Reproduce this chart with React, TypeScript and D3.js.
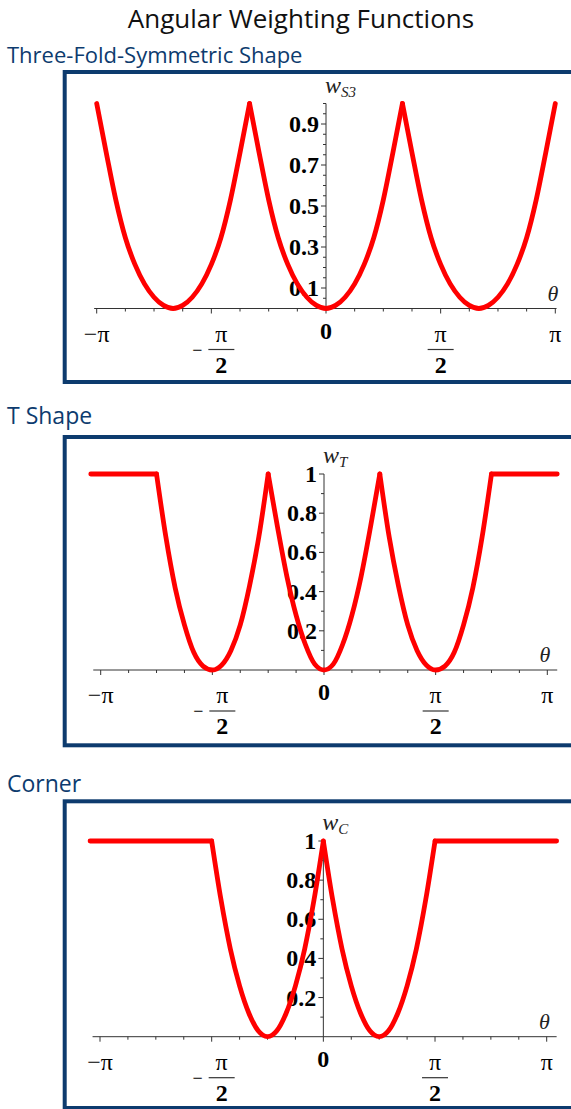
import React from 'react';
import * as d3 from 'd3';

const W = 571;
const H = 1109;

// Sample angles in degrees, every 7.5° (π/24) from −π to π.
const ANGLES_DEG: number[] = d3.range(-180, 180.1, 7.5);

// Three-fold-symmetric weighting w_S3(θ)
const S3_VALUES = [
  1, 0.76, 0.53, 0.345, 0.215, 0.12, 0.055, 0.015,
  0, 0.015, 0.055, 0.12, 0.215, 0.345, 0.53, 0.76,
  1, 0.76, 0.53, 0.345, 0.215, 0.12, 0.055, 0.015,
  0, 0.015, 0.055, 0.12, 0.215, 0.345, 0.53, 0.76,
  1, 0.76, 0.53, 0.345, 0.215, 0.12, 0.055, 0.015,
  0, 0.015, 0.055, 0.12, 0.215, 0.345, 0.53, 0.76,
  1,
];
// cusps / ends (degrees) where the curve is not smooth
const S3_BREAKS = [-180, -60, 60, 180];

// T-shape weighting w_T(θ)
const T_VALUES = [
  1, 1, 1, 1, 1, 1, 1,
  0.68, 0.42, 0.23, 0.09, 0.02, 0,
  0.025, 0.1, 0.23, 0.43, 0.68, 1,
  0.73, 0.48, 0.28, 0.13, 0.03, 0,
  0.03, 0.13, 0.28, 0.48, 0.73, 1,
  0.68, 0.43, 0.23, 0.1, 0.025, 0,
  0.02, 0.09, 0.23, 0.42, 0.68, 1,
  1, 1, 1, 1, 1, 1,
];
const T_BREAKS = [-135, -45, 45, 135];

// Corner weighting w_C(θ)
const C_VALUES = [
  1, 1, 1, 1, 1, 1, 1, 1, 1, 1, 1, 1, 1,
  0.7, 0.45, 0.26, 0.12, 0.03, 0,
  0.03, 0.12, 0.26, 0.45, 0.7, 1,
  0.7, 0.45, 0.26, 0.12, 0.03, 0,
  0.03, 0.12, 0.26, 0.45, 0.7, 1,
  1, 1, 1, 1, 1, 1, 1, 1, 1, 1, 1, 1,
];
const C_BREAKS = [-90, 0, 90];

// Flat plateaus continue slightly past ±π
const FLAT_OVERHANG_DEG = 188;

// Axis tick values
const X_MINOR_STEP_DEG = 22.5;
const X_LABEL_DEG = [-180, -90, 0, 90, 180];
const S3_Y_LABELS = [0.1, 0.3, 0.5, 0.7, 0.9];
const S3_Y_MINOR_STEP = 0.05;
const TC_Y_LABELS = [0.2, 0.4, 0.6, 0.8, 1];
const TC_Y_MINOR_STEP = 0.1;

const NAVY = '#0d3b6e';
const AXIS = '#333';
const RED = '#ff0000';
const SERIF = '"Liberation Serif", "Times New Roman", serif';
const SANS = '"Open Sans", "Noto Sans", sans-serif';
const TICK_FS = 24;

type Pt = { t: number; v: number };

interface PanelSpec {
  subtitle: string;
  subtitleY: number;
  subtitleSize: number;
  frameTop: number;
  frameBottom: number;
  xRange: [number, number];
  yRange: [number, number];
  axisExtent: [number, number];
  points: Pt[];
  breaks: number[];
  yLabels: number[];
  yMinorStep: number;
  yLabelFmt: (v: number) => string;
  wSub: string;
}

const zip = (ts: number[], vs: number[]): Pt[] => ts.map((t, i) => ({ t, v: vs[i] }));
const withOverhang = (pts: Pt[]): Pt[] => [
  { t: -FLAT_OVERHANG_DEG, v: pts[0].v },
  ...pts,
  { t: FLAT_OVERHANG_DEG, v: pts[pts.length - 1].v },
];

const PANELS: PanelSpec[] = [
  {
    subtitle: 'Three-Fold-Symmetric Shape',
    subtitleY: 62.7,
    subtitleSize: 22,
    frameTop: 72,
    frameBottom: 382,
    xRange: [96.7, 555.3],
    yRange: [308.5, 103.5],
    axisExtent: [-182, 181],
    points: zip(ANGLES_DEG, S3_VALUES),
    breaks: S3_BREAKS,
    yLabels: S3_Y_LABELS,
    yMinorStep: S3_Y_MINOR_STEP,
    yLabelFmt: (v) => d3.format('.1f')(v),
    wSub: 'S3',
  },
  {
    subtitle: 'T Shape',
    subtitleY: 424,
    subtitleSize: 23,
    frameTop: 437,
    frameBottom: 745.3,
    xRange: [100.7, 547.3],
    yRange: [670, 474],
    axisExtent: [-186, 188],
    points: withOverhang(zip(ANGLES_DEG, T_VALUES)),
    breaks: T_BREAKS,
    yLabels: TC_Y_LABELS,
    yMinorStep: TC_Y_MINOR_STEP,
    yLabelFmt: (v) => (v === 1 ? '1' : d3.format('.1f')(v)),
    wSub: 'T',
  },
  {
    subtitle: 'Corner',
    subtitleY: 791.7,
    subtitleSize: 23,
    frameTop: 801.3,
    frameBottom: 1108,
    xRange: [100, 546.7],
    yRange: [1036.7, 841],
    axisExtent: [-186, 188],
    points: withOverhang(zip(ANGLES_DEG, C_VALUES)),
    breaks: C_BREAKS,
    yLabels: TC_Y_LABELS,
    yMinorStep: TC_Y_MINOR_STEP,
    yLabelFmt: (v) => (v === 1 ? '1' : d3.format('.1f')(v)),
    wSub: 'C',
  },
];

// Split the sampled curve at cusps so each smooth piece is interpolated on its own.
function splitAtBreaks(pts: Pt[], breaks: number[]): Pt[][] {
  const segs: Pt[][] = [];
  let cur: Pt[] = [pts[0]];
  for (let i = 1; i < pts.length; i++) {
    cur.push(pts[i]);
    if (breaks.includes(pts[i].t) && i < pts.length - 1) {
      segs.push(cur);
      cur = [pts[i]];
    }
  }
  segs.push(cur);
  return segs;
}

function XLabel({ deg, x, y0 }: { deg: number; x: number; y0: number }) {
  const fs = TICK_FS;
  if (deg === 0) {
    return (
      <text x={x} y={y0 + 30} textAnchor="middle" fontFamily={SERIF} fontWeight="bold" fontSize={fs}>
        0
      </text>
    );
  }
  if (Math.abs(deg) === 180) {
    return (
      <text x={x} y={y0 + 33} textAnchor="middle" fontFamily={SERIF} fontSize={fs}>
        {deg < 0 ? '\u2212\u03c0' : '\u03c0'}
      </text>
    );
  }
  // ±π/2 as a stacked fraction
  const neg = deg < 0;
  const cx = neg ? x + 10 : x;
  return (
    <g>
      {neg && (
        <text x={x - 14} y={y0 + 47} textAnchor="middle" fontFamily={SERIF} fontSize={18}>
          {'\u2212'}
        </text>
      )}
      <text x={cx} y={y0 + 33} textAnchor="middle" fontFamily={SERIF} fontSize={fs}>
        {'\u03c0'}
      </text>
      <line x1={cx - 13} x2={cx + 13} y1={y0 + 41} y2={y0 + 41} stroke={AXIS} strokeWidth={1.2} />
      <text x={cx} y={y0 + 64} textAnchor="middle" fontFamily={SERIF} fontWeight="bold" fontSize={fs}>
        2
      </text>
    </g>
  );
}

function Panel({ p }: { p: PanelSpec }) {
  const x = d3.scaleLinear().domain([-180, 180]).range(p.xRange);
  const y = d3.scaleLinear().domain([0, 1]).range(p.yRange);
  const x0 = x(0);
  const y0 = y(0);
  const y1 = y(1);

  const line = d3
    .line<Pt>()
    .x((d) => x(d.t))
    .y((d) => y(d.v))
    .curve(d3.curveMonotoneX);
  const segs = splitAtBreaks(p.points, p.breaks);

  const xMinor = d3.range(-180, 180.1, X_MINOR_STEP_DEG);
  const nMinorY = Math.round(1 / p.yMinorStep);
  const yMinor = d3.range(1, nMinorY + 1).map((i) => i * p.yMinorStep);

  return (
    <g>
      <text x={7} y={p.subtitleY} fontFamily={SANS} fontSize={p.subtitleSize} fill={NAVY}>
        {p.subtitle}
      </text>
      <rect
        x={64.7}
        y={p.frameTop}
        width={620}
        height={p.frameBottom - p.frameTop}
        fill="#fff"
        stroke={NAVY}
        strokeWidth={4}
      />

      {/* x axis */}
      <line x1={x(p.axisExtent[0])} x2={x(p.axisExtent[1])} y1={y0} y2={y0} stroke={AXIS} strokeWidth={1} />
      {xMinor.map((d) => {
        const major = X_LABEL_DEG.includes(d);
        return (
          <line key={`xt${d}`} x1={x(d)} x2={x(d)} y1={y0} y2={y0 + (major ? 5 : 3)} stroke={AXIS} strokeWidth={1} />
        );
      })}
      {X_LABEL_DEG.map((d) => (
        <XLabel key={`xl${d}`} deg={d} x={x(d)} y0={y0} />
      ))}

      {/* y axis */}
      <line x1={x0} x2={x0} y1={y0} y2={y1} stroke={AXIS} strokeWidth={1} />
      {yMinor.map((v) => {
        const major = p.yLabels.some((l) => Math.abs(l - v) < 1e-9);
        return (
          <line key={`yt${v}`} x1={x0 - (major ? 5 : 3)} x2={x0} y1={y(v)} y2={y(v)} stroke={AXIS} strokeWidth={1} />
        );
      })}
      {p.yLabels.map((v) => (
        <text
          key={`yl${v}`}
          x={x0 - 7}
          y={y(v) + 8}
          textAnchor="end"
          fontFamily={SERIF}
          fontWeight="bold"
          fontSize={TICK_FS}
        >
          {p.yLabelFmt(v)}
        </text>
      ))}

      {/* axis names */}
      <text x={x0 - 1} y={y1 - 11} fontFamily={SERIF} fontStyle="italic" fontSize={24} fill="#222">
        w
        <tspan fontSize={15} dy={4}>
          {p.wSub}
        </tspan>
      </text>
      <text x={x(180) + 3} y={y0 - 8} textAnchor="end" fontFamily={SERIF} fontStyle="italic" fontSize={22} fill="#222">
        {'\u03b8'}
      </text>

      {/* weighting curve */}
      {segs.map((s, i) => (
        <path
          key={`seg${i}`}
          d={line(s) || ''}
          fill="none"
          stroke={RED}
          strokeWidth={4.8}
          strokeLinecap="round"
          strokeLinejoin="round"
        />
      ))}
    </g>
  );
}

export default function App() {
  return (
    <svg
      width={W}
      height={H}
      viewBox={`0 0 ${W} ${H}`}
      style={{ position: 'absolute', left: 0, top: 0, background: '#fff' }}
    >
      <rect x={0} y={0} width={W} height={H} fill="#fff" />
      <text x={301} y={28} textAnchor="middle" fontFamily={SANS} fontSize={26} fill="#111">
        Angular Weighting Functions
      </text>
      {PANELS.map((p) => (
        <Panel key={p.subtitle} p={p} />
      ))}
    </svg>
  );
}
